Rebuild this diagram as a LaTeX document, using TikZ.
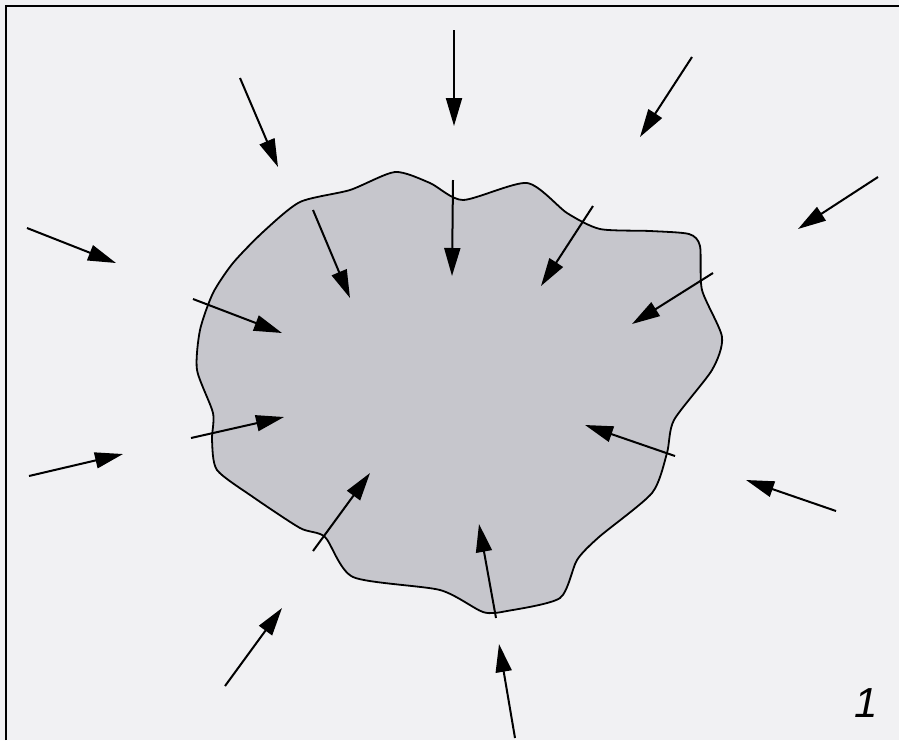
\documentclass[tikz,border=0pt]{standalone}
\usepackage{fontspec}
\setmainfont{Liberation Sans}
\usetikzlibrary{arrows.meta}
\definecolor{paper}{RGB}{241,241,243}
\definecolor{blobfill}{RGB}{198,198,204}
\begin{document}
\begin{tikzpicture}[x=0.5pt,y=-0.5pt,
  arr/.style={line width=1pt,-{Triangle[length=14pt,width=8pt]}},
  frameline/.style={line width=1pt,black},
  blob/.style={line width=0.9pt,draw=black,fill=blobfill},
  numlabel/.style={font=\fontsize{21}{21}\selectfont\itshape,inner sep=0pt}]
\fill[paper] (0,0) rectangle (899,740);
\useasboundingbox (0,0) rectangle (899,740);
\draw[frameline] (6,740) -- (6,6) -- (899,6);
\draw[blob] plot[smooth cycle, tension=0.42] coordinates {
  (233,263) (263,232) (300,202) (350,190) (395,172) (430,183) (463,200)
  (527,183) (567,213) (600,229) (650,231) (689,234) (700,246) (702,290)
  (722,337) (712,370) (674,420) (667,453) (652,493) (599,537) (577,560)
  (560,598) (507,611) (483,612) (440,590) (353,577) (325,537) (300,528)
  (253,497) (217,470) (212,440) (213,413) (197,370) (200,330) (213,293)};
% outer arrows
\coordinate (o1a) at (240,78);  \coordinate (o1b) at (278,167);
\coordinate (o2a) at (454,30);  \coordinate (o2b) at (454,126);
\coordinate (o3a) at (692,57);  \coordinate (o3b) at (640,137);
\coordinate (o4a) at (878,177); \coordinate (o4b) at (798,229);
\coordinate (o5a) at (27,228);  \coordinate (o5b) at (116,263);
\coordinate (o6a) at (29,476);  \coordinate (o6b) at (123,454);
\coordinate (o7a) at (836,511); \coordinate (o7b) at (746,480);
\coordinate (o8a) at (225,686); \coordinate (o8b) at (282,608);
\coordinate (o9a) at (515,738); \coordinate (o9b) at (499,644);
% inner arrows
\coordinate (i1a) at (313,210); \coordinate (i1b) at (350,298);
\coordinate (i2a) at (453,180); \coordinate (i2b) at (452,276);
\coordinate (i3a) at (593,206); \coordinate (i3b) at (541,286);
\coordinate (i4a) at (713,273); \coordinate (i4b) at (632,324);
\coordinate (i5a) at (193,299); \coordinate (i5b) at (282,333);
\coordinate (i6a) at (191,438); \coordinate (i6b) at (284,417);
\coordinate (i7a) at (675,456); \coordinate (i7b) at (585,425);
\coordinate (i8a) at (313,551); \coordinate (i8b) at (370,473);
\coordinate (i9a) at (496,618); \coordinate (i9b) at (479,524);
\foreach \n in {o1,o2,o3,o4,o5,o6,o7,o8,o9,i1,i2,i3,i4,i5,i6,i7,i8,i9}
  \draw[arr] (\n a) -- (\n b);
\node[numlabel] (lab) at (866,703) {1};
\end{tikzpicture}
\end{document}
